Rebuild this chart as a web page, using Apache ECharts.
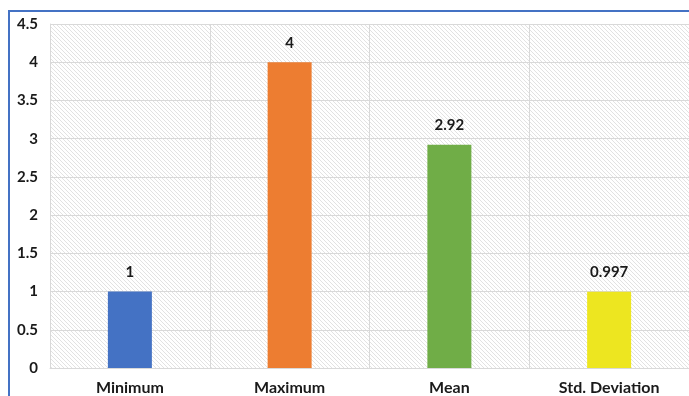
<!DOCTYPE html>
<html>
<head>
<meta charset="utf-8">
<script src="https://cdn.jsdelivr.net/npm/echarts@6/dist/echarts.min.js"></script>
<style>
  html, body { margin: 0; padding: 0; background: #fff; }
  #chart { width: 689px; height: 396px; }
</style>
</head>
<body>
<div id="chart"></div>
<script>
// data
const categories = ['Minimum', 'Maximum', 'Mean', 'Std. Deviation']
const values = [1, 4, 2.92, 0.997]
const valueLabels = ['1', '4', '2.92', '0.997']
const barColors = ['#4472c4', '#ed7d31', '#70ad47', '#ede620']

// diagonal hatch for the plot background
function makeHatch() {
  let c = document.createElement('canvas')
  c.width = 4
  c.height = 4
  let ctx = c.getContext('2d')
  ctx.fillStyle = '#ffffff'
  ctx.fillRect(0, 0, 4, 4)
  ctx.strokeStyle = '#e2e2e2'
  ctx.lineWidth = 1
  ctx.beginPath()
  ctx.moveTo(-1, -1); ctx.lineTo(5, 5)
  ctx.moveTo(-5, -1); ctx.lineTo(1, 5)
  ctx.moveTo(3, -1); ctx.lineTo(9, 5)
  ctx.stroke()
  return c
}

let chart = echarts.init(document.getElementById('chart'))
let font = 'Lato, "Open Sans", sans-serif'
let option = {
  backgroundColor: '#fff',
  animation: false,
  grid: {
    left: 50, right: -1, top: 24, bottom: 28,
    show: true,
    borderWidth: 0,
    backgroundColor: { image: makeHatch(), repeat: 'repeat' }
  },
  graphic: [{
    type: 'rect',
    shape: { x: 9, y: 11, width: 720, height: 420 },
    style: { fill: 'none', stroke: '#4472c4', lineWidth: 2 },
    z: 100
  }],
  xAxis: {
    type: 'category',
    data: categories,
    axisLine: { show: true, lineStyle: { color: '#d9d9d9' } },
    axisTick: { show: false },
    splitLine: { show: true, lineStyle: { color: '#d9d9d9', width: 1 } },
    axisLabel: { color: '#1a1a1a', fontWeight: 'bold', fontSize: 16, fontFamily: font, margin: 12 }
  },
  yAxis: {
    type: 'value',
    min: 0, max: 4.5, interval: 0.5,
    axisLine: { show: true, lineStyle: { color: '#d9d9d9' } },
    axisTick: { show: false },
    splitLine: { lineStyle: { color: '#d9d9d9', width: 1 } },
    axisLabel: { color: '#1a1a1a', fontWeight: 'bold', fontSize: 15, fontFamily: font, margin: 12 }
  },
  series: [{
    type: 'bar',
    barWidth: 44,
    data: values.map((v, i) => ({ value: v, itemStyle: { color: barColors[i] } })),
    label: {
      show: true,
      position: 'top',
      distance: 12,
      color: '#1a1a1a',
      fontWeight: 'bold',
      fontSize: 15,
      fontFamily: font,
      formatter: p => valueLabels[p.dataIndex]
    }
  }]
}
chart.setOption(option)
</script>
</body>
</html>
